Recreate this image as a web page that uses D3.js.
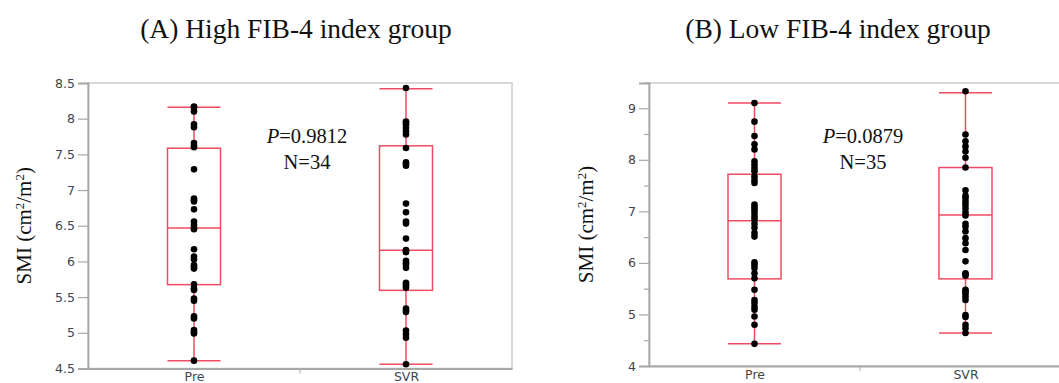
<!DOCTYPE html>
<html>
<head>
<meta charset="utf-8">
<script src="https://cdn.jsdelivr.net/npm/d3@7"></script>
<style>
  body { margin: 0; background: #fff; }
  svg { display: block; }
</style>
</head>
<body>
<svg id="chart" width="1059" height="383"></svg>
<script>
// groups on the x axis
let categories = ["Pre", "SVR"]

// SMI values
let highPre = [8.17, 8.15, 8.10, 7.92, 7.88, 7.66, 7.60, 7.29, 6.88, 6.84, 6.73, 6.56, 6.51, 6.47, 6.45, 6.17, 6.07,
  6.03, 5.93, 5.90, 5.68, 5.62, 5.60, 5.48, 5.45, 5.23, 5.20, 5.04, 4.99, 5.01, 4.61, 7.62, 6.86, 5.95]
let highSvr = [8.43, 7.96, 7.92, 7.87, 7.82, 7.78, 7.59, 7.39, 7.34, 6.81, 6.69, 6.56, 6.53, 6.32, 6.16, 6.13, 6.01,
  5.96, 5.91, 5.70, 5.66, 5.63, 5.34, 5.29, 5.03, 4.98, 4.93, 4.56, 7.94, 7.37, 6.15, 5.98, 5.68, 5.31]
let lowPre = [9.10, 8.74, 8.46, 8.30, 8.20, 7.97, 7.91, 7.84, 7.78, 7.68, 7.61, 7.55, 7.13, 7.08, 7.03, 6.97, 6.90,
  6.84, 6.76, 6.68, 6.58, 6.51, 6.01, 5.96, 5.90, 5.80, 5.70, 5.48, 5.28, 5.22, 5.15, 5.09, 4.96, 4.80, 4.43]
let lowSvr = [9.33, 8.49, 8.36, 8.26, 8.16, 8.04, 7.85, 7.41, 7.26, 7.19, 7.13, 7.06, 6.98, 6.76, 6.70, 6.61, 6.48,
  6.38, 6.25, 6.03, 5.80, 5.75, 5.48, 5.41, 5.35, 5.28, 4.99, 4.95, 4.80, 4.73, 4.64, 7.30, 6.92, 5.78, 5.45]

// box summaries as drawn: [whisker low, Q1, median, Q3, whisker high]
let highPreBox = [4.61, 5.675, 6.47, 7.586, 8.16]
let highSvrBox = [4.56, 5.595, 6.155, 7.62, 8.42]
let lowPreBox = [4.43, 5.69, 6.82, 7.72, 9.10]
let lowSvrBox = [4.64, 5.69, 6.93, 7.85, 9.30]

// y axis ticks
let highTicks = [4.5, 5, 5.5, 6, 6.5, 7, 7.5, 8, 8.5]
let lowTicks = [4, 5, 6, 7, 8, 9]
let lowMinor = [4.5, 5.5, 6.5, 7.5, 8.5, 9.5]

let titles = ["(A) High FIB-4 index group", "(B) Low FIB-4 index group"]
let pValues = ["0.9812", "0.0879"]
let nValues = [34, 35]

let panels = [
  { left: 88, top: 83, width: 424, height: 285.5, domain: [4.5, 8.5], ticks: highTicks, minor: [],
    series: [highPre, highSvr], boxes: [highPreBox, highSvrBox], title: titles[0], p: pValues[0], n: nValues[0],
    titleX: 296, noteX: 307, labelX: 24 },
  { left: 649, top: 83, width: 422, height: 283, domain: [4, 9.49], ticks: lowTicks, minor: lowMinor,
    series: [lowPre, lowSvr], boxes: [lowPreBox, lowSvrBox], title: titles[1], p: pValues[1], n: nValues[1],
    titleX: 838, noteX: 863, labelX: 586 }
]

let boxColor = "#f24a62"
let serif = "'Liberation Serif', 'Times New Roman', serif"
let sans = "'DejaVu Sans', Verdana, sans-serif"
let svg = d3.select("#chart")

panels.forEach(function(p) {
  let g = svg.append("g").attr("transform", "translate(" + p.left + "," + p.top + ")")

  let x = d3.scalePoint().domain(categories).range([0, p.width]).padding(0.5)
  let y = d3.scaleLinear().domain(p.domain).range([p.height, 0])

  // frame
  g.append("rect")
      .attr("width", p.width)
      .attr("height", p.height)
      .attr("fill", "none")
      .attr("stroke", "#cfcfcf")
      .attr("stroke-width", 1.6)

  // y axis
  let yAxis = g.append("g")
      .call(d3.axisLeft(y).tickValues(p.ticks).tickSize(10).tickPadding(3)
        .tickFormat(function(d) { return String(d) }))
  yAxis.select(".domain").attr("stroke", "#a8a8a8").attr("stroke-width", 1.8)
  yAxis.selectAll(".tick line").attr("stroke", "#a8a8a8").attr("stroke-width", 1.2)
  yAxis.selectAll(".tick text")
      .attr("fill", "#3f4550")
      .style("font-family", sans)
      .style("font-size", "12.5px")

  if (p.minor.length) {
    g.append("g")
        .call(d3.axisLeft(y).tickValues(p.minor).tickSize(5).tickFormat(""))
      .call(function(a) {
        a.select(".domain").remove()
        a.selectAll(".tick line").attr("stroke", "#a8a8a8").attr("stroke-width", 1.2)
      })
  }

  // x axis: labels under categories, small tick between them
  let xAxis = g.append("g")
      .attr("transform", "translate(0," + p.height + ")")
      .call(d3.axisBottom(x).tickSize(0).tickPadding(4))
  xAxis.select(".domain").attr("stroke", "#a8a8a8").attr("stroke-width", 1.8)
  xAxis.selectAll(".tick text")
      .attr("fill", "#3f4550")
      .style("font-family", sans)
      .style("font-size", "12.5px")

  g.append("line")
      .attr("x1", p.width / 2).attr("x2", p.width / 2)
      .attr("y1", p.height).attr("y2", p.height + 5)
      .attr("stroke", "#a8a8a8")

  let half = 26.5

  categories.forEach(function(cat, i) {
    let b = p.boxes[i]
    let cx = x(cat)
    let bg = g.append("g").attr("stroke", boxColor).attr("stroke-width", 1.5).attr("fill", "none")

    // whisker stem
    bg.append("line")
        .attr("x1", cx).attr("x2", cx)
        .attr("y1", y(b[0])).attr("y2", y(b[4]))
    // whisker caps
    bg.selectAll(".cap").data([b[0], b[4]]).enter().append("line")
        .attr("x1", cx - half).attr("x2", cx + half)
        .attr("y1", function(d) { return y(d) }).attr("y2", function(d) { return y(d) })
    // box
    bg.append("rect")
        .attr("x", cx - half)
        .attr("y", y(b[3]))
        .attr("width", half * 2)
        .attr("height", y(b[1]) - y(b[3]))
        .attr("fill", "#fff")
    // median
    bg.append("line")
        .attr("x1", cx - half).attr("x2", cx + half)
        .attr("y1", y(b[2])).attr("y2", y(b[2]))

    g.selectAll(".pt" + i).data(p.series[i]).enter().append("circle")
        .attr("cx", cx)
        .attr("cy", function(d) { return y(d) })
        .attr("r", 3.3)
        .attr("fill", "#000")
  })

  // title
  svg.append("text")
      .attr("x", p.titleX)
      .attr("y", 38)
      .attr("text-anchor", "middle")
      .style("font-family", serif)
      .style("font-size", "27.5px")
      .attr("fill", "#111")
      .text(p.title)

  // y label
  let yl = svg.append("text")
      .attr("transform", "translate(" + p.labelX + "," + (p.top + p.height / 2) + ") rotate(-90)")
      .attr("text-anchor", "middle")
      .attr("dy", "0.35em")
      .style("font-family", serif)
      .style("font-size", "21px")
      .attr("fill", "#111")
  yl.append("tspan").text("SMI (cm")
  yl.append("tspan").attr("baseline-shift", "super").style("font-size", "13px").text("2")
  yl.append("tspan").text("/m")
  yl.append("tspan").attr("baseline-shift", "super").style("font-size", "13px").text("2")
  yl.append("tspan").text(")")

  // statistics note
  let note = svg.append("g")
      .style("font-family", serif)
      .style("font-size", "20.5px")
      .attr("fill", "#111")
  let t1 = note.append("text").attr("x", p.noteX).attr("y", 143).attr("text-anchor", "middle")
  t1.append("tspan").style("font-style", "italic").text("P")
  t1.append("tspan").text("=" + p.p)
  note.append("text").attr("x", p.noteX).attr("y", 168.5).attr("text-anchor", "middle")
      .text("N=" + p.n)
})
</script>
</body>
</html>
